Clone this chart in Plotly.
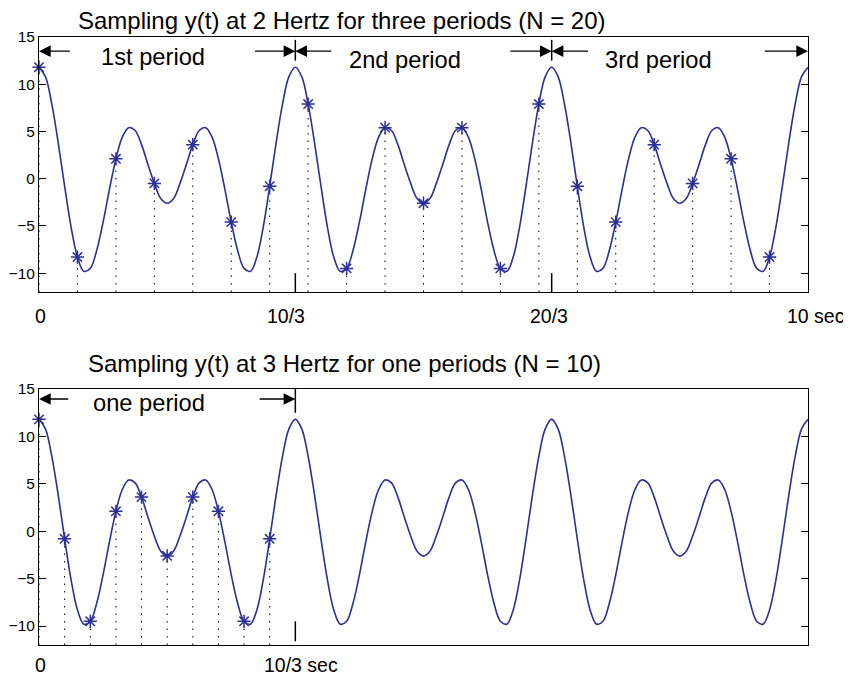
import numpy as np
import plotly.graph_objects as go

# y(t) every 1/12 s from 0 to 10 s (period 10/3 s)
t_curve = np.linspace(0, 10, 121)
y_curve = [
    11.8, 10.8, 7.9, 3.8, -0.8, -5.1, -8.3, -9.8, -9.5, -7.6,
    -4.6, -1.1, 2.1, 4.4, 5.4, 5.1, 3.6, 1.5, -0.5, -2.1,
    -2.6, -2.1, -0.5, 1.5, 3.6, 5.1, 5.4, 4.4, 2.1, -1.1,
    -4.6, -7.6, -9.5, -9.8, -8.3, -5.1, -0.8, 3.8, 7.9, 10.8,
    11.8, 10.8, 7.9, 3.8, -0.8, -5.1, -8.3, -9.8, -9.5, -7.6,
    -4.6, -1.1, 2.1, 4.4, 5.4, 5.1, 3.6, 1.5, -0.5, -2.1,
    -2.6, -2.1, -0.5, 1.5, 3.6, 5.1, 5.4, 4.4, 2.1, -1.1,
    -4.6, -7.6, -9.5, -9.8, -8.3, -5.1, -0.8, 3.8, 7.9, 10.8,
    11.8, 10.8, 7.9, 3.8, -0.8, -5.1, -8.3, -9.8, -9.5, -7.6,
    -4.6, -1.1, 2.1, 4.4, 5.4, 5.1, 3.6, 1.5, -0.5, -2.1,
    -2.6, -2.1, -0.5, 1.5, 3.6, 5.1, 5.4, 4.4, 2.1, -1.1,
    -4.6, -7.6, -9.5, -9.8, -8.3, -5.1, -0.8, 3.8, 7.9, 10.8,
    11.8,
]

# 2 Hz sampling, N = 20
t_s1 = [0, 0.5, 1, 1.5, 2, 2.5, 3, 3.5, 4, 4.5,
        5, 5.5, 6, 6.5, 7, 7.5, 8, 8.5, 9, 9.5]
y_s1 = [11.8, -8.3, 2.1, -0.5, 3.6, -4.6, -0.8, 7.9, -9.5, 5.4,
        -2.6, 5.4, -9.5, 7.9, -0.8, -4.6, 3.6, -0.5, 2.1, -8.3]

# 3 Hz sampling, N = 10
t_s2 = [0, 1/3, 2/3, 1, 4/3, 5/3, 2, 7/3, 8/3, 3]
y_s2 = [11.8, -0.8, -9.5, 2.1, 3.6, -2.6, 3.6, 2.1, -9.5, -0.8]

title1 = "Sampling y(t) at 2 Hertz for three periods (N = 20)"
title2 = "Sampling y(t) at 3 Hertz for one periods (N = 10)"

BLUE = "#2b2f96"
FONT = "Liberation Sans, Arial, Helvetica, sans-serif"
YBOT = -12


def stems(ts, ys):
    xs, yy = [], []
    for t, v in zip(ts, ys):
        xs += [t, t, None]
        yy += [YBOT, v, None]
    return xs, yy


fig = go.Figure()

for ts, ys, xa, ya in [(t_s1, y_s1, "x", "y"), (t_s2, y_s2, "x2", "y2")]:
    sx, sy = stems(ts, ys)
    fig.add_trace(go.Scatter(x=sx, y=sy, mode="lines", xaxis=xa, yaxis=ya,
                             line=dict(color="black", width=1, dash="1.5px,6px"),
                             hoverinfo="skip"))
    fig.add_trace(go.Scatter(x=t_curve, y=y_curve, mode="lines", xaxis=xa, yaxis=ya,
                             line=dict(color=BLUE, width=1.6, shape="spline")))
    fig.add_trace(go.Scatter(x=ts, y=ys, mode="markers", xaxis=xa, yaxis=ya,
                             cliponaxis=False,
                             marker=dict(symbol="asterisk-open", size=11, color=BLUE,
                                         line=dict(color=BLUE, width=1.5))))

# period markers
shapes = []
for xv in [10/3, 20/3]:
    shapes.append(dict(type="line", xref="x", yref="y", x0=xv, x1=xv, y0=12.5, y1=14.7,
                       line=dict(color="black", width=1.5)))
    shapes.append(dict(type="line", xref="x", yref="y", x0=xv, x1=xv, y0=-12, y1=-10,
                       line=dict(color="black", width=1.5)))
shapes.append(dict(type="line", xref="x2", yref="y2", x0=10/3, x1=10/3, y0=12.5, y1=15,
                   line=dict(color="black", width=1.5)))
shapes.append(dict(type="line", xref="x2", yref="y2", x0=10/3, x1=10/3, y0=-11.6, y1=-9.5,
                   line=dict(color="black", width=1.5)))

ann = []


def arrow(xh, xt, y, xr, yr):
    ann.append(dict(x=xh, y=y, ax=xt, ay=y, xref=xr, yref=yr, axref=xr, ayref=yr,
                    text="", showarrow=True, arrowhead=2, arrowsize=1.8,
                    arrowwidth=1.3, arrowcolor="black", standoff=0))


arrow(0, 0.42, 13.5, "x", "y")
arrow(10/3, 2.79, 13.5, "x", "y")
arrow(10/3, 3.82, 13.5, "x", "y")
arrow(20/3, 6.11, 13.5, "x", "y")
arrow(20/3, 7.16, 13.5, "x", "y")
arrow(10, 9.42, 13.5, "x", "y")
arrow(0, 0.40, 13.95, "x2", "y2")
arrow(10/3, 2.85, 13.95, "x2", "y2")


def label(txt, x, y, xr, yr, size, xanchor="center"):
    ann.append(dict(text=txt, x=x, y=y, xref=xr, yref=yr, showarrow=False,
                    xanchor=xanchor, yanchor="middle", borderpad=0,
                    font=dict(family=FONT, size=size, color="black")))


label("1st period", 1.482, 12.85, "x", "y", 23.7)
label("2nd period", 4.755, 12.6, "x", "y", 23.7)
label("3rd period", 8.06, 12.6, "x", "y", 23.7)
label("one period", 1.427, 13.48, "x2", "y2", 23.7)

# text outside the axes, placed in paper coordinates
label(title1, 0.0494, 1.0270, "paper", "paper", 24, xanchor="left")
label(title2, 0.0628, 0.4633, "paper", "paper", 24, xanchor="left")

label("0", 0.0022, 0.5411, "paper", "paper", 19.5)
label("10/3", 0.3218, 0.5411, "paper", "paper", 19.5)
label("20/3", 0.6629, 0.5411, "paper", "paper", 19.5)
label("10 sec", 1.0105, 0.5411, "paper", "paper", 19.5)
label("0", 0.0026, -0.0334, "paper", "paper", 19.5)
label("10/3 sec", 0.3404, -0.0334, "paper", "paper", 19.5)

xcommon = dict(range=[0, 10], showticklabels=False, ticks="", showgrid=False,
               zeroline=False, showline=True, mirror=True, linecolor="black",
               linewidth=1)
ycommon = dict(range=[-12, 15], tickvals=[-10, -5, 0, 5, 10, 15], ticks="inside",
               ticklen=7, tickcolor="black", showgrid=False, zeroline=False,
               showline=True, mirror="ticks", linecolor="black", linewidth=1,
               tickfont=dict(family=FONT, size=15.5, color="black"))

# the page body adds an 8 px margin, so the figure is 8 px smaller
fig.update_layout(
    width=843, height=670,
    margin=dict(l=31, r=43, t=29, b=33, autoexpand=False),
    paper_bgcolor="white", plot_bgcolor="white",
    showlegend=False,
    font=dict(family=FONT, color="black"),
    xaxis=dict(domain=[0, 1], anchor="y", **xcommon),
    yaxis=dict(domain=[0.5806, 1], anchor="x", **ycommon),
    xaxis2=dict(domain=[0, 1], anchor="y2", **xcommon),
    yaxis2=dict(domain=[0, 0.421], anchor="x2", **ycommon),
    shapes=shapes,
    annotations=ann,
)

fig.write_html("out.html")
